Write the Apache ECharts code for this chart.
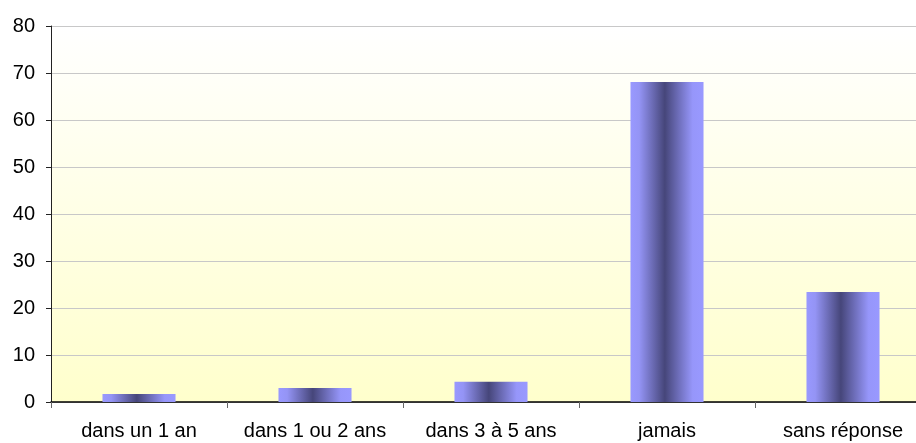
<!DOCTYPE html>
<html>
<head>
<meta charset="utf-8">
<script src="https://cdn.jsdelivr.net/npm/echarts@6/dist/echarts.min.js"></script>
<style>
  html, body { margin: 0; padding: 0; background: #fff; }
  #chart { width: 916px; height: 443px; }
</style>
</head>
<body>
<div id="chart"></div>
<script>
// categories and values
var categories = ['dans un 1 an', 'dans 1 ou 2 ans', 'dans 3 à 5 ans', 'jamais', 'sans réponse'];
var values = [1.7, 3.0, 4.3, 68.1, 23.4];
var yTicks = [0, 10, 20, 30, 40, 50, 60, 70, 80];

var barFill = new echarts.graphic.LinearGradient(0, 0, 1, 0, [
    {offset: 0, color: '#9999ff'},
    {offset: 0.12, color: '#9494f5'},
    {offset: 0.47, color: '#46467a'},
    {offset: 0.85, color: '#9696fa'},
    {offset: 1, color: '#9999ff'}
]);

var option = {
    backgroundColor: '#ffffff',
    animation: false,
    textStyle: {fontFamily: '"Liberation Sans", Arial, sans-serif'},
    grid: {
        left: 51,
        top: 26,
        bottom: 41,
        width: 880,
        outerBoundsMode: 'none',
        containLabel: false,
        show: true,
        borderWidth: 0,
        backgroundColor: new echarts.graphic.LinearGradient(0, 0, 0, 1, [
            {offset: 0, color: '#ffffff'},
            {offset: 1, color: '#ffffcc'}
        ])
    },
    xAxis: {
        type: 'category',
        data: categories,
        axisLine: {lineStyle: {color: '#000', width: 1.5}},
        axisTick: {show: true, length: 6, lineStyle: {color: '#666'}},
        axisLabel: {color: '#000', fontSize: 20, margin: 19, interval: 0}
    },
    yAxis: {
        type: 'value',
        min: yTicks[0],
        max: yTicks[yTicks.length - 1],
        interval: 10,
        axisLine: {show: true, lineStyle: {color: '#222', width: 1}},
        axisTick: {show: true, length: 5, lineStyle: {color: '#222'}},
        axisLabel: {color: '#000', fontSize: 20, margin: 16},
        splitLine: {lineStyle: {color: '#c8c8c8', width: 1}}
    },
    series: [{
        type: 'bar',
        data: values,
        barWidth: '41.5%',
        itemStyle: {color: barFill}
    }]
};

var chart = echarts.init(document.getElementById('chart'));
chart.setOption(option);
</script>
</body>
</html>
